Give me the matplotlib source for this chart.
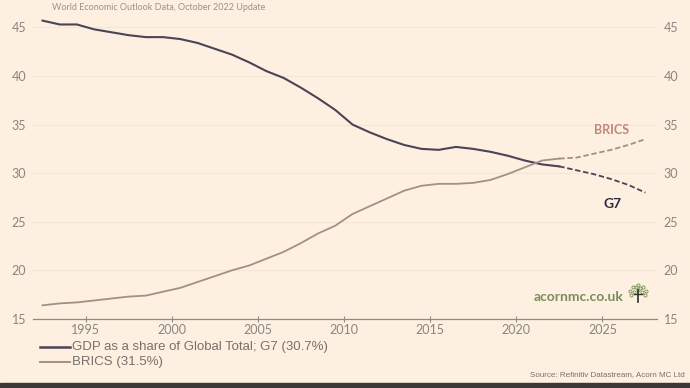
import matplotlib
matplotlib.use("Agg")
import matplotlib.pyplot as plt
import matplotlib.dates as mdates
import pandas as pd

# GDP share of global total (%), IMF WEO Oct 2022; 2023+ are forecasts
years = list(range(1992, 2028))
g7 = [45.7, 45.3, 45.3, 44.8, 44.5, 44.2, 44.0, 44.0, 43.8, 43.4,
      42.8, 42.2, 41.4, 40.5, 39.8, 38.8, 37.7, 36.5, 35.0, 34.2,
      33.5, 32.9, 32.5, 32.4, 32.7, 32.5, 32.2, 31.8, 31.3, 30.9,
      30.7, 30.3, 29.9, 29.4, 28.8, 28.0]
brics = [16.4, 16.6, 16.7, 16.9, 17.1, 17.3, 17.4, 17.8, 18.2, 18.8,
         19.4, 20.0, 20.5, 21.2, 21.9, 22.8, 23.8, 24.6, 25.8, 26.6,
         27.4, 28.2, 28.7, 28.9, 28.9, 29.0, 29.3, 29.9, 30.6, 31.3,
         31.5, 31.6, 32.0, 32.4, 32.9, 33.5]
last_actual = 2022
yticks = [15, 20, 25, 30, 35, 40, 45]
xtick_years = [1995, 2000, 2005, 2010, 2015, 2020, 2025]

df = pd.DataFrame({'year': years, 'g7': g7, 'brics': brics})
df['date'] = pd.to_datetime(df['year'].astype(str) + '-07-01')
hist = df[df['year'] <= last_actual]
fcst = df[df['year'] >= last_actual]

bg = '#fdf0e1'
g7_col = '#4b4457'
br_col = '#a48f86'
tick_col = '#8a8580'

fig = plt.figure(figsize=(6.9, 3.88), dpi=100, facecolor=bg)
ax = fig.add_axes([0.048, 0.178, 0.904, 0.814], facecolor=bg)

ax.plot(hist['date'], hist['g7'], color=g7_col, lw=1.5)
ax.plot(fcst['date'], fcst['g7'], color=g7_col, lw=1.3, ls=(0, (3, 1.5)))
ax.plot(hist['date'], hist['brics'], color=br_col, lw=1.3)
ax.plot(fcst['date'], fcst['brics'], color=br_col, lw=1.3, ls=(0, (3, 1.5)))

ax.set_ylim(15, 47.5)
ax.set_xlim(pd.Timestamp('1991-12-15'), pd.Timestamp('2028-03-01'))
ax.set_yticks(yticks)
ax.set_xticks([pd.Timestamp(f'{y}-01-01') for y in xtick_years])
ax.xaxis.set_major_formatter(mdates.DateFormatter('%Y'))

ax.grid(axis='y', color='#f3e6d6', lw=0.8)
for s in ['top', 'left', 'right']:
    ax.spines[s].set_visible(False)
ax.spines['bottom'].set_color('#8f8a86')
ax.spines['bottom'].set_linewidth(0.9)
ax.tick_params(axis='x', direction='inout', length=5, color='#8f8a86',
               labelsize=9, labelcolor=tick_col, pad=1)
ax.tick_params(axis='y', length=0, labelsize=9, labelcolor=tick_col,
               left=True, right=True, labelleft=True, labelright=True, pad=5)
for lab in ax.get_xticklabels() + ax.get_yticklabels():
    lab.set_family('Lato')

ax.text(pd.Timestamp('2025-07-15'), 34.4, 'BRICS', color='#c0877a',
        fontsize=9, fontweight='bold', ha='center', va='center', family='Lato')
ax.text(pd.Timestamp('2025-08-01'), 26.8, 'G7', color='#2e2b42',
        fontsize=10, fontweight='bold', ha='center', va='center', family='Lato')
ax.text(pd.Timestamp('2026-04-01'), 17.3, 'acornmc.co.uk', color='#7d8c5c',
        fontsize=10, fontweight='bold', ha='right', va='center', family='Lato')

# little tree logo next to the web address (figure pixels)
tree_x, tree_y = 638 / 690, 1 - 293 / 388
dots = [(-8, 2), (-5, 6), (0, 8), (5, 6), (8, 2), (-4, 1), (4, 1), (0, 3),
        (-7, -2), (7, -2), (-2, 6), (2, 5)]
fig.add_artist(plt.Line2D([tree_x + dx / 690 for dx, dy in dots],
                          [tree_y + dy / 388 for dx, dy in dots],
                          ls='none', marker='o', ms=2.2, mfc='none',
                          mec='#7f9a5e', mew=0.7, transform=fig.transFigure))
fig.add_artist(plt.Line2D([tree_x, tree_x], [tree_y - 9 / 388, tree_y + 3 / 388],
                          color='#2f2f2f', lw=1.2, transform=fig.transFigure))
fig.add_artist(plt.Line2D([tree_x - 4 / 690, tree_x + 4 / 690],
                          [tree_y - 1 / 388, tree_y - 1 / 388],
                          color='#2f2f2f', lw=1.0, transform=fig.transFigure))

fig.text(0.075, 0.992, 'World Economic Outlook Data, October 2022 Update',
         fontsize=6.5, color='#9a948e', ha='left', va='top', family='Lato')

leg = [('GDP as a share of Global Total; G7 (30.7%)', g7_col, 1.8, 0.106),
       ('BRICS (31.5%)', br_col, 1.4, 0.067)]
for txt, col, lw, yy in leg:
    fig.add_artist(plt.Line2D([0.058, 0.101], [yy, yy], color=col, lw=lw,
                              transform=fig.transFigure))
    fig.text(0.105, yy, txt, fontsize=9.5, color='#77716c', va='center',
             ha='left', family='Liberation Sans')

fig.text(0.993, 0.034, 'Source: Refinitiv Datastream, Acorn MC Ltd',
         fontsize=5.8, color='#77716c', ha='right', va='center',
         family='Liberation Sans')

fig.add_artist(plt.Rectangle((0, 0), 1, 0.012, color='#3a3835',
                             transform=fig.transFigure))

fig.savefig('out.png', dpi=100, facecolor=bg)
